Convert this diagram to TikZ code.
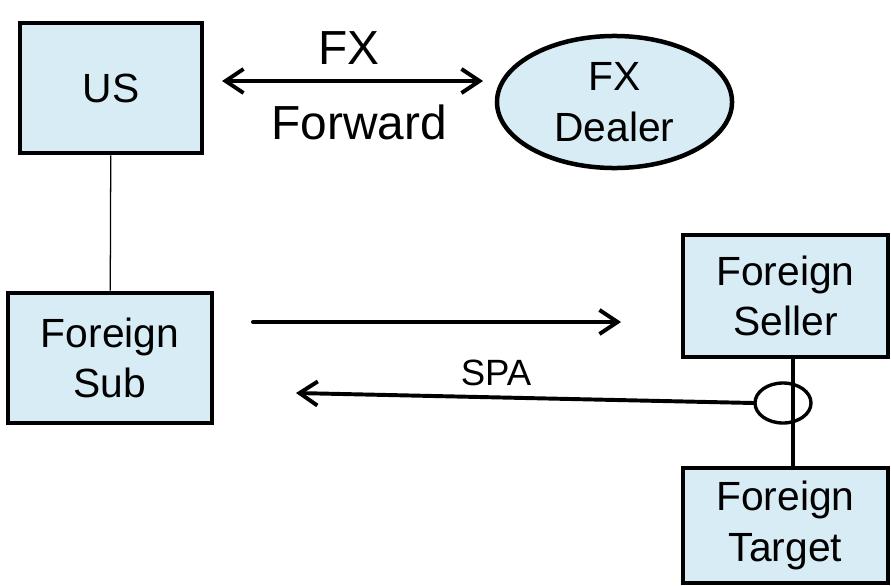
\documentclass[tikz,border=0pt]{standalone}
\usepackage{fontspec}
\setmainfont{Liberation Sans}
\usetikzlibrary{arrows.meta,shapes.geometric}
\definecolor{boxblue}{RGB}{215,236,245}
\tikzset{
  party/.style={draw=black, line width=3.2pt, fill=boxblue, align=center, inner sep=0pt,
    font=\fontsize{29}{36}\selectfont},
  barb/.tip={Straight Barb[length=4.5mm, width=6mm, line width=2.8pt]},
  deal/.style={line width=2.8pt, line cap=round, -barb},
  lbl/.style={font=\fontsize{34}{40}\selectfont, inner sep=0pt}
}
\begin{document}
\begin{tikzpicture}[x=0.025cm, y=-0.025cm]
			%%%%% START %%%%%
			\useasboundingbox (0, 0) rectangle (891, 585);
			
			\node[party, minimum width=4.55cm, minimum height=3.25cm] (us) at (111, 88) {US};
			\node[party, minimum width=5.1cm, minimum height=3.25cm] (fsub) at (110, 358) {Foreign\\Sub};
			\node[party, minimum width=5.125cm, minimum height=3.05cm] (fseller) at (785.5, 296) {Foreign\\Seller};
			\node[party, minimum width=5.125cm, minimum height=2.875cm] (ftarget) at (785.5, 525.5) {Foreign\\Target};
			\node[party, ellipse, minimum width=5.875cm, minimum height=3.3cm] (dealer) at (614.5, 102) {FX\\Dealer};
			
			\draw[line width=0.9pt] (us) -- (fsub);
			\draw[line width=2.4pt] (fseller.south -| 793, 0) -- (ftarget.north -| 793, 0);
			\node[draw, line width=2.4pt, ellipse, minimum width=1.4cm, minimum height=1cm, inner sep=0pt] (ring) at (783, 403) {};
			
			% FX forward
			\coordinate (fxL) at (222, 81);
			\coordinate (fxR) at (483, 81);
			\draw[deal, barb-barb] (fxL) -- (fxR);
			\node[lbl] (fx) at (349, 48) {FX};
			\node[lbl] (fwd) at (359, 122) {Forward};
			
			% purchase
			\coordinate (payL) at (253, 322);
			\coordinate (payR) at (621, 322);
			\draw[deal] (payL) -- (payR);
			
			% SPA
			\coordinate (spaEnd) at (296, 393);
			\draw[deal] (ring.west) -- (spaEnd);
			\node[lbl, font=\fontsize{26}{30}\selectfont] (spa) at (496, 373) {SPA};
			
			%%%%% END %%%%%
\end{tikzpicture}
\end{document}
